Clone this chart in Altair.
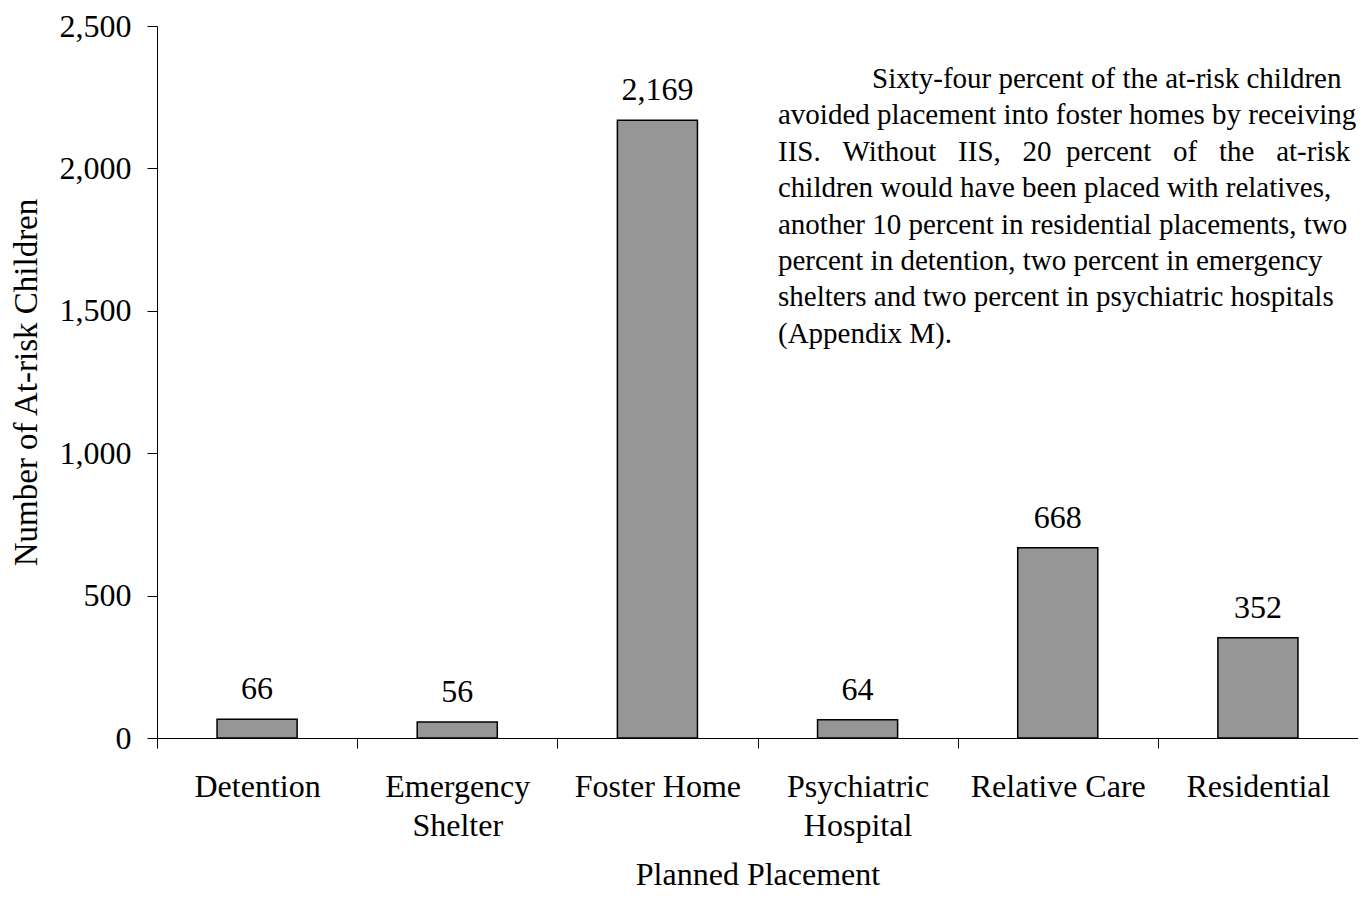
import altair as alt
import pandas as pd
import json

categories = ["Detention", "Emergency Shelter", "Foster Home",
              "Psychiatric Hospital", "Relative Care", "Residential"]
label_lines = [["Detention"], ["Emergency", "Shelter"], ["Foster Home"],
               ["Psychiatric", "Hospital"], ["Relative Care"], ["Residential"]]
values = [66, 56, 2169, 64, 668, 352]
y_ticks = [0, 500, 1000, 1500, 2000, 2500]

NB = "\u00a0"
note_first = "Sixty-four percent of the at-risk children"
note_rest = [
    "avoided placement into foster homes by receiving",
    ("IIS." + NB * 3 + "Without" + NB * 3 + "IIS," + NB * 3 + "20" + NB * 2
     + "percent" + NB * 3 + "of" + NB * 3 + "the" + NB * 3 + "at-risk"),
    "children would have been placed with relatives,",
    "another 10 percent in residential placements, two",
    "percent in detention, two percent in emergency",
    "shelters and two percent in psychiatric hospitals",
    "(Appendix M).",
]

df = pd.DataFrame({"cat": categories, "value": values})
one = pd.DataFrame({"k": [0]})

FONT = "Liberation Serif"
W, H = 1201, 712

mapping = {c: l for c, l in zip(categories, label_lines)}
label_expr = "(" + json.dumps(mapping) + ")[datum.label]"

x = alt.X("cat:N", sort=categories, title="Planned Placement",
          scale=alt.Scale(paddingInner=0, paddingOuter=0),
          axis=alt.Axis(labelAngle=0, tickBand="extent", tickSize=10,
                        labelExpr=label_expr, labelPadding=23,
                        labelLineHeight=39,
                        titleBaseline="alphabetic", titleY=146,
                        domainColor="black", tickColor="black",
                        labelFontSize=32, titleFontSize=32))
y = alt.Y("value:Q", title="Number of At-risk Children",
          scale=alt.Scale(domain=[0, 2500], nice=False),
          axis=alt.Axis(values=y_ticks, labelExpr="format(datum.value, ',')",
                        grid=False, tickSize=10, labelPadding=16,
                        titleX=-131, titleBaseline="middle",
                        domainColor="black", tickColor="black",
                        labelFontSize=32, titleFontSize=33))

bars = alt.Chart(df).mark_bar(
    width=alt.RelativeBandSize(0.4), color="#969696",
    stroke="black", strokeWidth=1.5
).encode(x=x, y=y)

texts = alt.Chart(df).mark_text(
    baseline="alphabetic", dy=-20, fontSize=32, font=FONT, color="black"
).encode(x=alt.X("cat:N", sort=categories), y="value:Q",
         text=alt.Text("value:Q", format=","))

note1 = alt.Chart(one).mark_text(
    align="left", baseline="alphabetic", fontSize=29, font=FONT,
    color="black", text=note_first
).encode(x=alt.value(715), y=alt.value(62))

note2 = alt.Chart(one).mark_text(
    align="left", baseline="alphabetic", fontSize=29, font=FONT,
    color="black", text=note_rest, lineHeight=36.4
).encode(x=alt.value(621), y=alt.value(98.4))

chart = alt.layer(bars, texts, note1, note2).properties(
    width=W, height=H,
    autosize=alt.AutoSizeParams(type="none"),
    padding={"left": 149, "top": 18, "right": 0, "bottom": 152},
).configure(font=FONT).configure_view(stroke=None).configure_axis(
    labelFont=FONT, titleFont=FONT, labelColor="black", titleColor="black",
    titleFontWeight="normal"
)

chart.save("out.html", embed_options={"renderer": "svg", "actions": False})
